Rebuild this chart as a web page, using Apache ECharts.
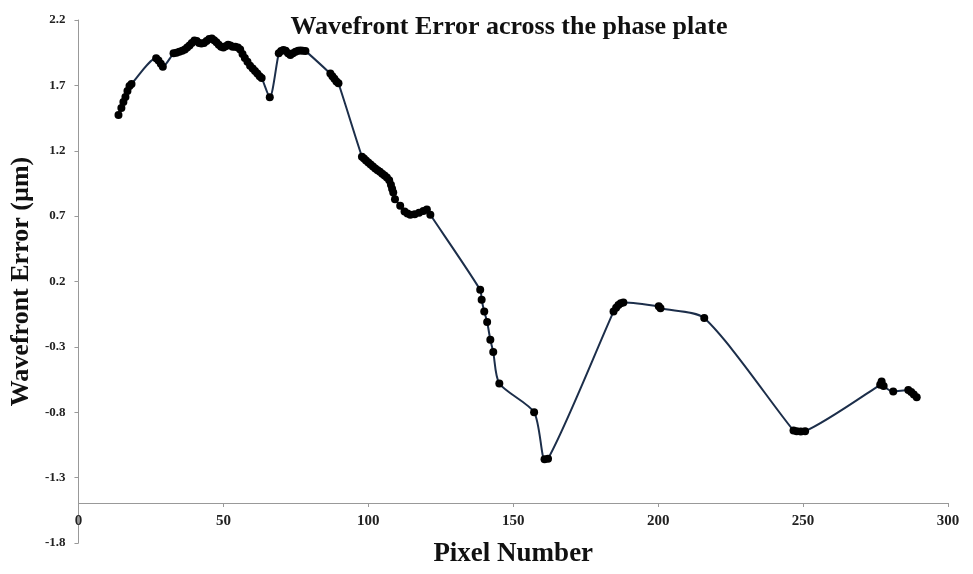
<!DOCTYPE html>
<html>
<head>
<meta charset="utf-8">
<script src="https://cdn.jsdelivr.net/npm/echarts@6/dist/echarts.min.js"></script>
<style>html,body{margin:0;padding:0;background:#fff}#c{width:973px;height:574px}</style>
</head>
<body>
<div id="c"></div>
<script>
const pixelNumber = [13.8,14.8,15.5,16.2,16.9,17.6,18.3,26.8,27.6,28.4,29.1,32.8,33.8,34.8,35.8,36.7,37.5,38.3,39.1,40.0,40.8,41.6,42.4,43.3,44.2,45.1,46.0,46.8,47.6,48.4,49.2,50.0,50.8,51.6,52.4,53.2,54.1,55.0,55.8,56.6,57.4,58.3,59.2,60.1,60.9,61.7,62.5,63.2,66.0,69.1,69.9,70.7,71.5,72.3,73.1,74.0,74.9,75.8,76.6,77.4,78.3,86.9,87.6,88.3,89.0,89.7,97.8,98.5,99.2,100.0,100.8,101.6,102.4,103.2,104.0,104.8,105.6,106.4,107.2,107.8,108.2,108.6,109.2,111.0,112.5,113.5,114.5,116.0,117.5,119.0,120.2,121.4,138.6,139.1,140.0,141.0,142.1,143.1,145.2,157.2,160.8,162.0,184.6,185.5,186.3,187.1,188.0,200.2,200.8,215.9,246.7,247.8,249.2,250.7,276.6,277.1,277.8,281.1,286.3,287.3,288.2,289.2];
const wavefrontError = [1.474,1.527,1.573,1.611,1.657,1.695,1.711,1.907,1.89,1.865,1.843,1.945,1.95,1.958,1.965,1.975,1.99,2.005,2.025,2.043,2.04,2.025,2.02,2.025,2.04,2.055,2.058,2.045,2.03,2.01,1.995,1.99,2.0,2.01,2.005,1.995,1.996,1.99,1.975,1.94,1.91,1.88,1.85,1.83,1.81,1.79,1.77,1.757,1.609,1.945,1.962,1.97,1.965,1.945,1.932,1.945,1.958,1.965,1.966,1.965,1.962,1.79,1.77,1.75,1.73,1.716,1.155,1.14,1.125,1.11,1.095,1.08,1.065,1.05,1.04,1.025,1.01,0.995,0.975,0.94,0.91,0.88,0.83,0.78,0.735,0.72,0.71,0.715,0.725,0.74,0.75,0.71,0.136,0.06,-0.03,-0.11,-0.246,-0.34,-0.58,-0.80,-1.16,-1.155,-0.03,0.0,0.02,0.034,0.04,0.01,-0.005,-0.08,-0.94,-0.945,-0.948,-0.945,-0.59,-0.565,-0.6,-0.642,-0.629,-0.645,-0.665,-0.685];
const xTicks = {min: 0, max: 300, interval: 50};
const yTicks = {min: -1.8, max: 2.2, interval: 0.5};
const titleText = 'Wavefront Error across the phase plate';
const xName = 'Pixel Number';
const yName = 'Wavefront Error (µm)';

const serif = '"Liberation Serif","Times New Roman",serif';
const chart = echarts.init(document.getElementById('c'), null, {renderer: 'canvas'});
chart.setOption({
  animation: false,
  backgroundColor: '#fff',
  title: {
    text: titleText, left: 504, top: 9, textAlign: 'center',
    textStyle: {fontFamily: serif, fontWeight: 'bold', fontSize: 26, color: '#111'}
  },
  grid: {left: 78, right: 25, top: 20, bottom: 31, containLabel: false},
  xAxis: {
    type: 'value', min: xTicks.min, max: xTicks.max, interval: xTicks.interval,
    offset: -40,
    name: xName, nameLocation: 'middle', nameGap: 38,
    nameTextStyle: {fontFamily: serif, fontWeight: 'bold', fontSize: 27, color: '#111'},
    axisLine: {onZero: false, lineStyle: {color: '#999', width: 1}},
    axisTick: {show: true, length: 4, lineStyle: {color: '#999'}},
    axisLabel: {fontFamily: serif, fontWeight: 'bold', fontSize: 15, color: '#222', margin: 11},
    splitLine: {show: false}
  },
  yAxis: {
    type: 'value', min: yTicks.min, max: yTicks.max, interval: yTicks.interval,
    name: yName, nameLocation: 'middle', nameGap: 43, nameRotate: 90,
    nameTextStyle: {fontFamily: serif, fontWeight: 'bold', fontSize: 26, color: '#111'},
    axisLine: {show: true, lineStyle: {color: '#999', width: 1}},
    axisTick: {show: true, length: 4, lineStyle: {color: '#999'}},
    axisLabel: {fontFamily: serif, fontWeight: 'bold', fontSize: 13, color: '#222', margin: 13,
      formatter: v => { const s = (Math.round(v * 10) / 10).toFixed(1); return s === '-0.0' ? '0.0' : s; }},
    splitLine: {show: false}
  },
  series: [{
    type: 'line',
    data: pixelNumber.map((x, i) => [x, wavefrontError[i]]),
    smooth: 0.25,
    symbol: 'circle', symbolSize: 8,
    itemStyle: {color: '#000'},
    lineStyle: {color: '#1c2e4a', width: 2}
  }]
});
</script>
</body>
</html>
